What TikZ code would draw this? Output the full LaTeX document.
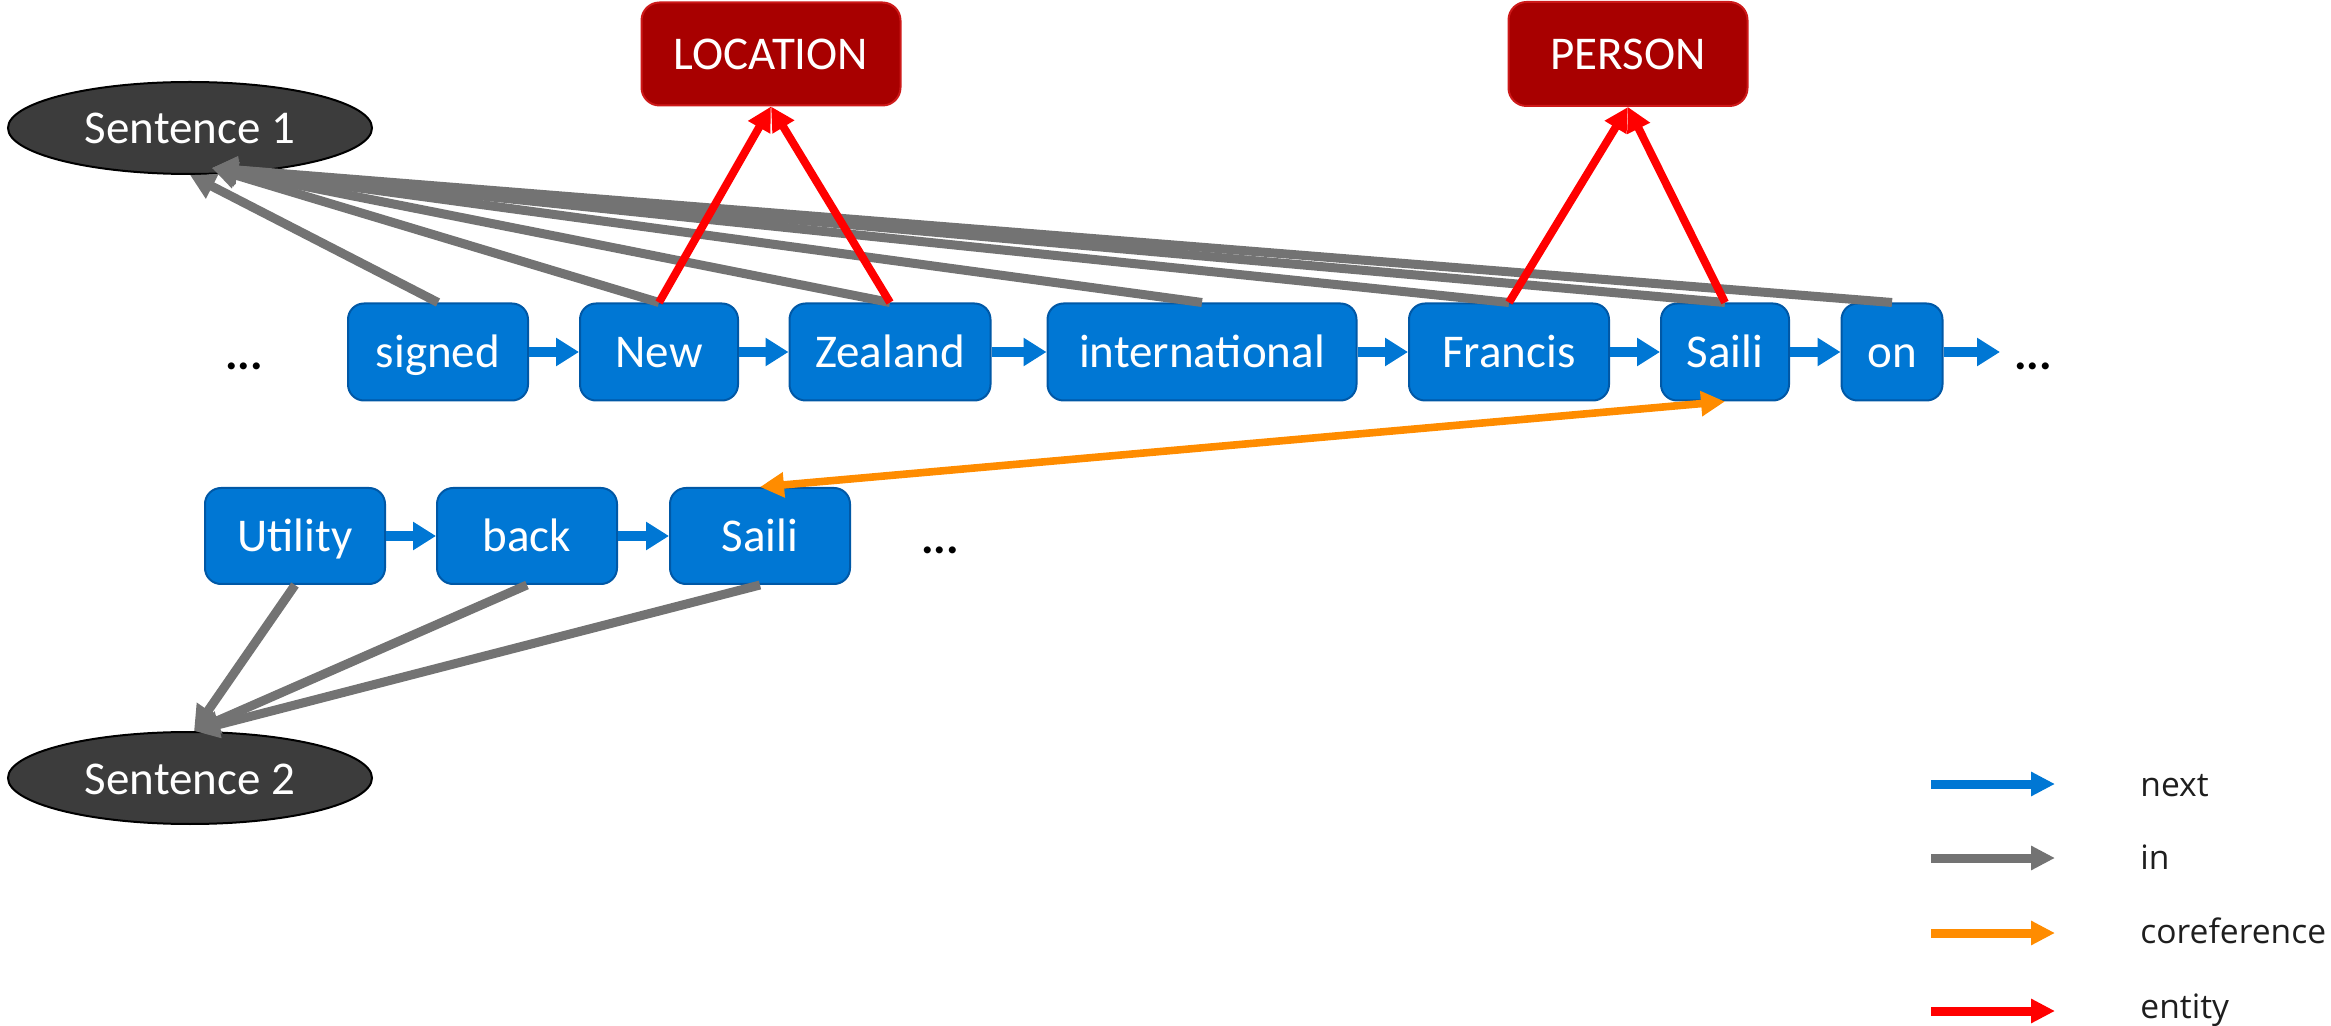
\documentclass[tikz,border=0pt]{standalone}
\usepackage{fontspec}
\setmainfont{Carlito}
\newfontfamily\legendfont{Open Sans}
\usetikzlibrary{arrows.meta,shapes.geometric}
\definecolor{tokblue}{RGB}{0,119,212}
\definecolor{tokedge}{RGB}{0,88,166}
\definecolor{entred}{RGB}{168,0,0}
\definecolor{entedge}{RGB}{205,25,25}
\definecolor{sentfill}{RGB}{60,60,60}
\definecolor{ingray}{RGB}{115,115,115}
\definecolor{corefor}{RGB}{255,140,0}
\definecolor{entline}{RGB}{255,0,0}
\definecolor{legtext}{RGB}{30,30,30}

\begin{document}
\begin{tikzpicture}[x=0.5pt,y=-0.5pt,
  lbl/.style={font=\fontsize{23.5}{28}\selectfont, text=white, text height=17pt, text depth=1pt, inner sep=0pt},
  token/.style={lbl, draw=tokedge, line width=1pt, fill=tokblue, rounded corners=8pt, minimum height=48.5pt},
  enttype/.style={lbl, draw=entedge, line width=1pt, fill=entred, rounded corners=9pt},
  sentence/.style={lbl, ellipse, draw=black, line width=1pt, fill=sentfill, minimum width=182pt, minimum height=46pt},
  nextarrow/.style={draw=tokblue, line width=5pt, -{Triangle[length=11.5pt,width=13.5pt]}},
  inarrow/.style={draw=ingray, line width=4.5pt, -{Triangle[length=12.5pt,width=13pt]}},
  entarrow/.style={draw=entline, line width=4pt, -{Triangle[length=12pt,width=12pt]}},
  corefarrow/.style={draw=corefor, line width=3.8pt, {Triangle[length=12pt,width=12pt]}-{Triangle[length=12pt,width=12pt]}},
  legarrow/.style={line width=4.5pt, -{Triangle[length=12pt,width=11.5pt]}},
  dots/.style={font=\bfseries\fontsize{23.5}{28}\selectfont, inner sep=0pt, anchor=base},
  legtxt/.style={font=\legendfont\fontsize{16.8}{20}\selectfont, text=legtext, inner sep=0pt, anchor=base west},
]
\useasboundingbox (0,0) rectangle (2331,1026);

% sentence nodes
\node[sentence] (S1) at (190,128) {Sentence 1};
\node[sentence] (S2) at (190,778) {Sentence 2};

% entity types
\node[enttype, minimum width=129.5pt, minimum height=51.5pt] (LOC) at (771,54) {LOCATION};
\node[enttype, minimum width=119.5pt, minimum height=52pt] (PER) at (1628,54) {PERSON};

% first sentence tokens
\node[token, minimum width=90pt]    (signed)  at (438,352)  {signed};
\node[token, minimum width=79pt]    (new)     at (659,352)  {New};
\node[token, minimum width=100.5pt] (zealand) at (890,352)  {Zealand};
\node[token, minimum width=154.5pt] (intl)    at (1202,352) {international};
\node[token, minimum width=100pt]   (francis) at (1509,352) {Francis};
\node[token, minimum width=64pt]    (saili)   at (1725,352) {Saili};
\node[token, minimum width=50.5pt]  (on)      at (1892,352) {on};
\coordinate (onnext) at (2000,352);
\node[dots] (dotsA) at (244,370) {...};
\node[dots] (dotsB) at (2033,370) {...};

% second sentence tokens
\node[token, minimum width=90pt, minimum height=48pt] (utility) at (295,536) {Utility};
\node[token, minimum width=90pt, minimum height=48pt] (back)    at (527,536) {back};
\node[token, minimum width=90pt, minimum height=48pt] (sailiB)  at (760,536) {Saili};
\node[dots] (dotsC) at (940,554) {...};

% next
\draw[nextarrow] (signed) -- (new);
\draw[nextarrow] (new) -- (zealand);
\draw[nextarrow] (zealand) -- (intl);
\draw[nextarrow] (intl) -- (francis);
\draw[nextarrow] (francis) -- (saili);
\draw[nextarrow] (saili) -- (on);
\draw[nextarrow] (on) -- (onnext);
\draw[nextarrow] (utility) -- (back);
\draw[nextarrow] (back) -- (sailiB);

% in
\coordinate (s1in) at ([xshift=11pt,yshift=3.5pt]S1.south);
\coordinate (s1low) at (S1.south);
\draw[inarrow] (on.north) -- (s1in);
\draw[inarrow] (saili.north) -- (s1in);
\draw[inarrow] (francis.north) -- (s1in);
\draw[inarrow] (intl.north) -- (s1in);
\draw[inarrow] (zealand.north) -- (s1in);
\draw[inarrow] (new.north) -- (s1in);
\draw[inarrow] (signed.north) -- (s1low);
\coordinate (s2in) at ([xshift=2pt]S2.north);
\draw[inarrow] (utility.south) -- (s2in);
\draw[inarrow] (back.south) -- (s2in);
\draw[inarrow] (sailiB.south) -- (s2in);

% entity
\draw[entarrow] (new.north) -- (LOC.south);
\draw[entarrow] (zealand.north) -- (LOC.south);
\draw[entarrow] (francis.north) -- (PER.south);
\draw[entarrow] (saili.north) -- (PER.south);

% coreference
\draw[corefarrow] (saili.south) -- (sailiB.north);

% legend
\coordinate (la1) at (1931,784);  \coordinate (lb1) at (2055,784);
\coordinate (la2) at (1931,858);  \coordinate (lb2) at (2055,858);
\coordinate (la3) at (1931,933);  \coordinate (lb3) at (2055,933);
\coordinate (la4) at (1931,1011); \coordinate (lb4) at (2055,1011);
\draw[legarrow, draw=tokblue] (la1) -- (lb1);
\draw[legarrow, draw=ingray] (la2) -- (lb2);
\draw[legarrow, draw=corefor] (la3) -- (lb3);
\draw[legarrow, draw=entline] (la4) -- (lb4);
\node[legtxt] (lnext) at (2140,796) {next};
\node[legtxt] (lin) at (2140,869) {in};
\node[legtxt] (lcoref) at (2140,943) {coreference};
\node[legtxt] (lent) at (2140,1018) {entity};
\end{tikzpicture}
\end{document}
